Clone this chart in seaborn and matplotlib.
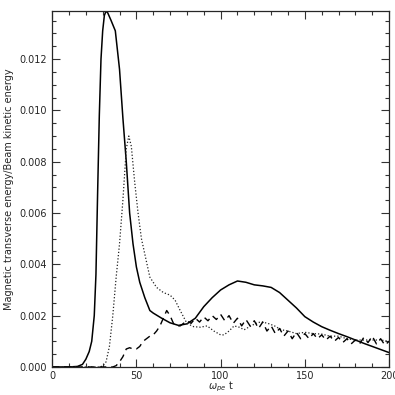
import matplotlib
matplotlib.use("Agg")
import matplotlib.pyplot as plt
import seaborn as sns
import numpy as np
import pandas as pd
from matplotlib.ticker import MultipleLocator

# ---- data ----
solid_x = [0, 10, 15, 18, 20, 22, 23.5, 25, 26, 27, 28, 29, 30, 31, 32, 33, 35, 37.5,
           40, 42, 44, 46, 48, 50, 52, 55, 58, 60, 65, 70, 75, 80, 85, 90, 95, 100,
           105, 110, 115, 120, 125, 130, 135, 140, 145, 150, 155, 160, 165, 170, 175,
           180, 185, 190, 195, 200]
solid_y = [0, 0, 0.00002, 0.0001, 0.0003, 0.0006, 0.001, 0.002, 0.0036, 0.0068, 0.0098,
           0.0120, 0.0131, 0.0137, 0.01387, 0.0138, 0.0135, 0.0131,
           0.0116, 0.0097, 0.0080, 0.0060, 0.0048, 0.0039, 0.0033, 0.0027, 0.0022, 0.0021,
           0.0019, 0.00172, 0.00162, 0.00168, 0.0019, 0.00235, 0.0027, 0.0030,
           0.0032, 0.00335, 0.0033, 0.0032, 0.00316, 0.0031, 0.0029, 0.0026, 0.0023,
           0.00196, 0.00175, 0.00157, 0.00143, 0.0013, 0.00118, 0.00105, 0.00092,
           0.0008, 0.00068, 0.00056]

dot_x = [0, 28, 30, 32, 34, 36, 38, 40, 42, 44, 45.5, 47, 49, 51, 53, 56, 58, 62, 66,
         70, 73, 76, 80, 84, 88, 92, 96, 100, 102, 105, 108, 111, 114, 118, 121, 124,
         128, 132, 136, 140, 145, 150, 155, 160, 165, 170, 175, 180, 185, 190, 195, 200]
dot_y = [0, 0, 0.00003, 0.0002, 0.0008, 0.002, 0.0035, 0.0048, 0.0065, 0.0085, 0.0090,
         0.0086, 0.0072, 0.0060, 0.0050, 0.0041, 0.0035, 0.0031, 0.0029,
         0.0028, 0.0026, 0.0022, 0.0017, 0.00157, 0.00155, 0.0016, 0.0014, 0.00125, 0.00125,
         0.0014, 0.0016, 0.00155, 0.00145, 0.0016, 0.0017, 0.00176,
         0.0017, 0.0016, 0.00145, 0.0014, 0.0013, 0.00135, 0.0013, 0.00128, 0.0012,
         0.0012, 0.0011, 0.00105, 0.00105, 0.00105, 0.00105, 0.001]

dash_x = [0, 36, 38, 40, 42, 44, 46, 48, 50, 52, 54, 56, 58, 60, 62, 64, 66, 68, 70,
          72, 74, 76, 78, 80, 82.5,
          85, 87.5, 90, 92.5, 95, 97.5, 100, 102.5, 105, 107.5, 110, 112.5, 115, 117.5,
          120, 122.5, 125, 127.5, 130, 132.5, 135, 137.5, 140, 142.5, 145, 147.5, 150,
          152.5, 155, 157.5, 160, 162.5, 165, 167.5, 170, 172.5, 175, 177.5, 180, 182.5,
          185, 187.5, 190, 192.5, 195, 197.5, 200]
dash_y = [0, 0, 0.00005, 0.0002, 0.0004, 0.0007, 0.00075, 0.0007, 0.0007, 0.0008, 0.001,
          0.0011, 0.0012, 0.00125, 0.0014, 0.0016, 0.0019, 0.0022, 0.0020,
          0.0017, 0.0016, 0.0016, 0.0017, 0.0018, 0.0017,
          0.0019, 0.00175, 0.00195, 0.0018, 0.0020, 0.00185, 0.00205, 0.0018, 0.0020,
          0.0017, 0.0019, 0.0016, 0.00185, 0.0016, 0.0018, 0.0015, 0.00175, 0.0014,
          0.0016, 0.0013, 0.0015, 0.0012, 0.0014, 0.0011, 0.00135, 0.0011, 0.0013,
          0.0011, 0.0013, 0.0011, 0.00125, 0.00105, 0.0012, 0.001, 0.00115, 0.00095,
          0.0011, 0.0009, 0.00105, 0.0009, 0.00115, 0.00095, 0.0012, 0.0009, 0.0011,
          0.00085, 0.0010]

x_label = r"$\omega_{pe}$ t"
y_label = "Magnetic transverse energy/Beam kinetic energy"

# ---- plot ----
sns.set_style("ticks")
plt.rcParams["font.family"] = ["DejaVu Sans"]

fig = plt.figure(figsize=(3.95, 3.95), dpi=100)
ax = fig.add_axes([0.132, 0.071, 0.853, 0.901])

sns.lineplot(x=solid_x, y=solid_y, ax=ax, color="black", lw=1.1,
             estimator=None, sort=False)
sns.lineplot(x=dot_x, y=dot_y, ax=ax, color="#222222", lw=0.9,
             estimator=None, sort=False, linestyle=(0, (1, 1.6)))
sns.lineplot(x=dash_x, y=dash_y, ax=ax, color="black", lw=1.0,
             estimator=None, sort=False, linestyle=(0, (5, 3.5)))

ax.set_xlim(0, 200)
ax.set_ylim(0, max(solid_y))
ax.xaxis.set_major_locator(MultipleLocator(50))
ax.xaxis.set_minor_locator(MultipleLocator(10))
ax.yaxis.set_major_locator(MultipleLocator(0.002))
ax.yaxis.set_minor_locator(MultipleLocator(0.0005))
ax.yaxis.set_major_formatter(matplotlib.ticker.FormatStrFormatter("%.3f"))
ax.tick_params(which="both", direction="in", top=True, right=True,
               labelsize=7, width=0.8, color="#333333")
ax.tick_params(which="major", length=6)
ax.tick_params(which="minor", length=3)
ax.tick_params(axis="x", pad=3)
for s in ax.spines.values():
    s.set_visible(True)
    s.set_linewidth(0.9)
ax.set_xlabel(x_label, fontsize=7, labelpad=-1)
ax.set_ylabel(y_label, fontsize=7, labelpad=4)

fig.savefig("out.png", dpi=100)
